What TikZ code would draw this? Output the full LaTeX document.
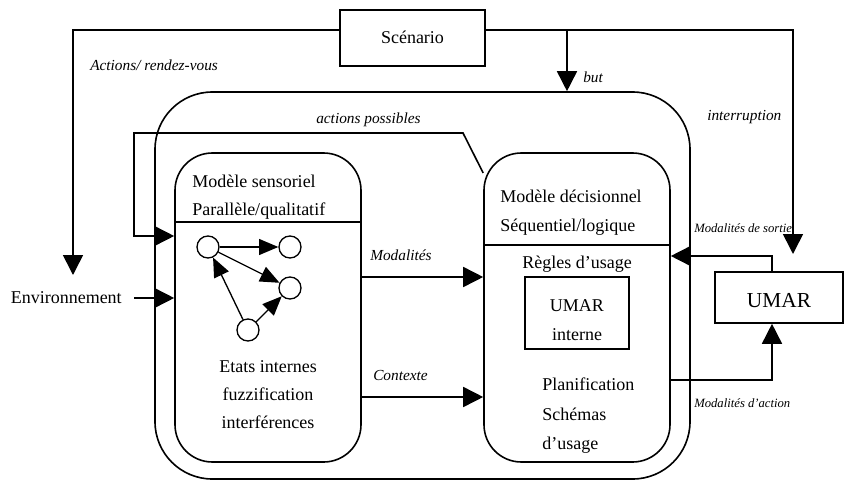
\documentclass[tikz,border=0pt]{standalone}
\usepackage{fontspec}
\setmainfont{Liberation Serif}
\usetikzlibrary{arrows.meta,calc}
\begin{document}
\begin{tikzpicture}[x=0.75pt,y=-0.75pt,
  wire/.style={line width=1.2pt},
  bigarr/.style={wire,-{Triangle[length=15pt,width=15pt]}},
  smallarr/.style={line width=1pt,-{Triangle[length=14.5pt,width=12pt]}},
  box/.style={draw,line width=1.2pt,inner sep=0pt},
  state/.style={draw,circle,line width=1pt,minimum size=16.5pt,inner sep=0pt},
  txt/.style={font=\fontsize{13.5}{16}\selectfont,inner sep=0pt,anchor=base west},
  ctxt/.style={txt,anchor=base},
  lbl/.style={font=\fontsize{11.5}{14}\selectfont\itshape,inner sep=0pt,anchor=base west},
  slbl/.style={font=\fontsize{9.5}{12}\selectfont\itshape,inner sep=0pt,anchor=base west}]
\useasboundingbox (0,0) rectangle (844,482);

% main blocks
\node[box,minimum width=108.75pt,minimum height=42pt] (scen) at (412.5,38) {};
\node[ctxt] at (412.5,43) {Scénario};
\node[box,rounded corners=43pt,minimum width=401.25pt,minimum height=290.25pt] (outer) at (422.5,285.5) {};
\node[box,rounded corners=28pt,minimum width=139.5pt,minimum height=231.75pt] (sens) at (268,307.5) {};
\node[box,rounded corners=28pt,minimum width=139.5pt,minimum height=231.75pt] (dec) at (577,307.5) {};
\node[box,minimum width=78pt,minimum height=54pt] (inner) at (577,313) {};
\node[box,minimum width=96pt,minimum height=38.25pt] (umar) at (779,297.5) {};
\node[ctxt,font=\fontsize{16}{19}\selectfont] at (779,307) {UMAR};

% dividers of the two models
\draw[wire] (sens.west |- 0,222) -- (sens.east |- 0,222);
\draw[wire] (dec.west |- 0,245) -- (dec.east |- 0,245);

% sensory model texts
\node[txt] at (192,187) {Modèle sensoriel};
\node[txt] at (192,215) {Parallèle/qualitatif};
\node[ctxt] at (268,372) {Etats internes};
\node[ctxt] at (268,400) {fuzzification};
\node[ctxt] at (268,428) {interférences};

% decision model texts
\node[txt] at (500,202) {Modèle décisionnel};
\node[txt] at (500,231) {Séquentiel/logique};
\node[ctxt] at (577,268) {Règles d’usage};
\node[ctxt] at (577,311) {UMAR};
\node[ctxt] at (577,340) {interne};
\node[txt] at (542,390) {Planification};
\node[txt] at (542,420) {Schémas};
\node[txt] at (542,449) {d’usage};

% environment
\node[txt,anchor=base east] (env) at (122,303) {Environnement};

% internal state graph
\node[state] (c1) at (208,247) {};
\node[state] (c2) at (290,247) {};
\node[state] (c3) at (290,288) {};
\node[state] (c4) at (248,330) {};
\draw[smallarr] (c1) -- (c2);
\draw[smallarr] (c1) -- (c3);
\draw[smallarr] (c4) -- (c1);
\draw[smallarr] (c4) -- (c3);

% connectors
\coordinate (envtop) at (73,275);
\coordinate (intr) at (793,254);
\coordinate (butsrc) at (567,30);
\draw[bigarr] (scen.west |- butsrc) -| (envtop);
\draw[bigarr] (scen.east |- butsrc) -| (intr);
\draw[bigarr] (butsrc) -- (outer.north -| butsrc);
\draw[bigarr] (dec.west |- 0,173) -- (463,133) -- (134,133) -- (134,236) -- (sens.west |- 0,236);
\draw[bigarr] ([xshift=9pt]env.east |- env.base) ++(0,-5) -- (sens.west |- 0,298);
\draw[bigarr] (sens.east |- 0,277) -- (dec.west |- 0,277);
\draw[bigarr] (sens.east |- 0,397) -- (dec.west |- 0,397);
\draw[bigarr] (dec.east |- 0,380) -| ([xshift=-5.25pt]umar.south);
\draw[bigarr] ([xshift=-5.25pt]umar.north) |- (dec.east |- 0,256);

% connector labels
\node[lbl] at (90,70) {Actions/ rendez-vous};
\node[lbl] at (583,82) {but};
\node[lbl] at (707,120) {interruption};
\node[lbl] at (316,123) {actions possibles};
\node[lbl] at (370,260) {Modalités};
\node[lbl] at (373,380) {Contexte};
\node[slbl] at (694,232) {Modalités de sortie};
\node[slbl] at (694,407) {Modalités d’action};
\end{tikzpicture}
\end{document}
